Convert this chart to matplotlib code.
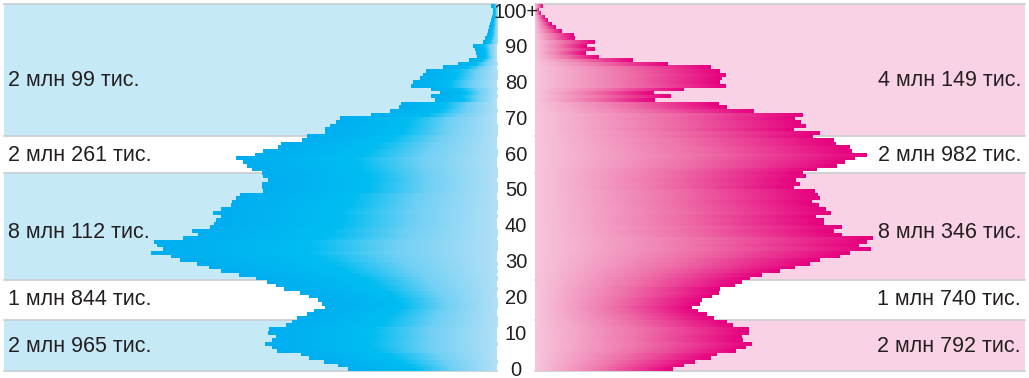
import numpy as np
import matplotlib
matplotlib.use('Agg')
import matplotlib.pyplot as plt
from matplotlib.colors import LinearSegmentedColormap
from matplotlib.transforms import blended_transform_factory

plt.rcParams['font.family'] = ['Liberation Sans', 'DejaVu Sans']

# single years of age, 0 .. 100+
ages = np.arange(0, 101)
tick_ages = [0, 10, 20, 30, 40, 50, 60, 70, 80, 90, 100]
tick_labels = ['0', '10', '20', '30', '40', '50', '60', '70', '80', '90', '100+']

# population, thousands
male = [144, 154, 168, 182, 190, 213, 218, 225, 218, 214,
        222, 221, 205, 199, 194, 184, 177, 167, 170, 174,
        182, 191, 207, 214, 223, 234, 250, 268, 279, 291,
        307, 316, 335, 324, 330, 333, 304, 290, 296, 278,
        274, 272, 268, 275, 268, 258, 257, 253, 249, 227,
        228, 228, 222, 227, 228, 238, 242, 246, 253, 235,
        227, 212, 209, 189, 184, 167, 167, 162, 156, 152,
        122, 104, 95, 93, 60, 64, 55, 64, 83, 81,
        75, 72, 69, 52, 38, 27, 19, 20, 21, 23,
        14, 12, 10, 9, 8, 7, 6, 5, 4, 4,
        6]
female = [133, 144, 155, 170, 176, 194, 204, 210, 201, 200,
          207, 207, 191, 186, 173, 166, 158, 152, 159, 161,
          171, 178, 179, 193, 200, 208, 220, 237, 252, 266,
          276, 295, 305, 325, 314, 321, 327, 297, 289, 297,
          280, 280, 272, 286, 282, 275, 268, 276, 274, 271,
          251, 256, 253, 262, 259, 273, 292, 300, 310, 321,
          307, 305, 291, 289, 269, 276, 251, 262, 257, 252,
          259, 212, 186, 178, 116, 131, 115, 144, 185, 179,
          181, 185, 179, 170, 128, 95, 62, 49, 58, 50,
          58, 38, 37, 26, 20, 16, 12, 9, 5, 3,
          7]

# age groups (background bands) and their totals
band_edges = [0, 14, 25, 54.6, 64.7, 101]
band_shaded = [True, False, True, False, True]
male_totals = ['2 млн 965 тис.', '1 млн 844 тис.', '8 млн 112 тис.',
               '2 млн 261 тис.', '2 млн 99 тис.']
female_totals = ['2 млн 792 тис.', '1 млн 740 тис.', '8 млн 346 тис.',
                 '2 млн 982 тис.', '4 млн 149 тис.']
label_y = [6.8, 19.6, 38.2, 59.4, 80.0]

blue_cmap = LinearSegmentedColormap.from_list(
    'blue', [(0, '#b2e0f7'), (0.3, '#6fd0f5'), (0.55, '#00bdf2'), (1, '#00aeef')])
pink_cmap = LinearSegmentedColormap.from_list(
    'pink', [(0, '#f7c6dc'), (0.5, '#ee70a8'), (1, '#e6007e')])

W, H = 1029, 378
fig = plt.figure(figsize=(W / 100, H / 100), dpi=100)
ax_l = fig.add_axes([4 / W, 7 / H, 493 / W, 367 / H])
ax_r = fig.add_axes([535 / W, 7 / H, 490 / W, 367 / H])
ax_m = fig.add_axes([497 / W, 8.0 / H, 38 / W, 358 / H])

grad = np.linspace(0, 1, 256).reshape(1, -1)


def draw_side(ax, values, cmap, band_color, totals, xmax, left):
    for lo, hi, shaded in zip(band_edges[:-1], band_edges[1:], band_shaded):
        ax.axhspan(lo, hi, color=band_color if shaded else 'white', lw=0, zorder=0)
    for e in band_edges:
        ax.axhline(e, color='#c9cdd1', lw=1.2, zorder=1, clip_on=False)
    for a, v in zip(ages, values):
        ax.imshow(grad, extent=(0, v, a, a + 1), cmap=cmap, aspect='auto',
                  interpolation='bilinear', origin='lower', zorder=2)
    trans = blended_transform_factory(ax.transAxes, ax.transData)
    for y, txt in zip(label_y, totals):
        if left:
            ax.text(0.008, y, txt, transform=trans, ha='left', va='center',
                    fontsize=15.5, color='#231f20', zorder=3)
        else:
            ax.text(0.992, y, txt, transform=trans, ha='right', va='center',
                    fontsize=15.5, color='#231f20', zorder=3)
    ax.set_xlim((xmax, 0) if left else (0, xmax))
    ax.set_ylim(0, 101)
    ax.axis('off')


draw_side(ax_l, male, blue_cmap, '#c6e9f8', male_totals, 478, True)
draw_side(ax_r, female, pink_cmap, '#f9d3e5', female_totals, 475, False)

for a, lab in zip(tick_ages, tick_labels):
    ax_m.text(0.5, a, lab, ha='center', va='center', fontsize=14.5, color='#231f20')
ax_m.set_xlim(0, 1)
ax_m.set_ylim(0, 100)
ax_m.axis('off')

fig.savefig('out.png', dpi=100)
